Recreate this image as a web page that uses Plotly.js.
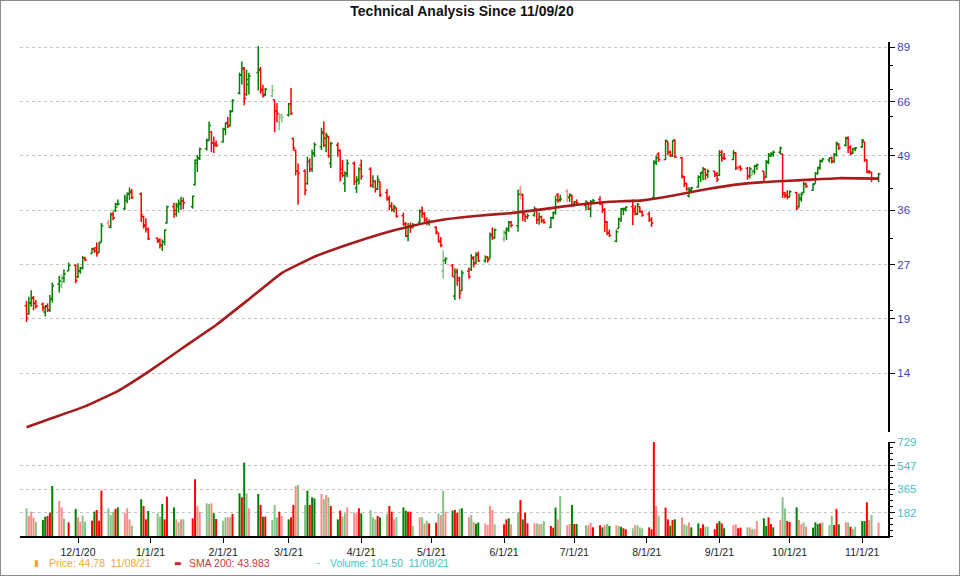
<!DOCTYPE html>
<html><head><meta charset="utf-8">
<script src="https://cdn.plot.ly/plotly-3.0.1.min.js"></script>
<style>
html,body{margin:0;padding:0;background:#fff;}
#chart{width:958px;height:574px;border:1px solid #8c8c8c;}
</style></head><body>
<div id="chart"></div>
<script>
// ---------- DATA ----------
const holidays = ['2020-11-26','2020-12-25','2021-01-01','2021-01-18','2021-02-15','2021-04-02','2021-05-31','2021-07-05','2021-09-06'];
const firstDay = '2020-11-09', lastDay = '2021-11-08';

const openP = [
 20.5,19.6,20.9,21.4,20.8,20.7,19.8,20.5,20.0,21.3,23.2,23.0,24.0,25.0,25.8,
 24.2,25.0,25.4,26.9,27.6,28.3,28.5,27.8,29.5,32.8,32.0,34.5,35.2,36.5,35.6,37.3,38.8,39.0,38.7,34.0,32.5,31.6,
 30.1,29.8,28.8,29.5,32.8,36.0,34.5,36.0,36.5,37.2,36.0,40.8,46.0,47.5,50.0,52.5,55.0,51.7,51.5,
 52.0,55.8,58.0,57.0,61.8,68.5,76.0,78.5,68.0,72.0,77.0,78.0,70.0,68.0,67.5,66.0,62.0,58.0,59.5,
 60.5,64.5,53.0,49.5,44.0,44.0,41.0,46.5,44.5,48.5,50.5,55.0,51.0,53.5,46.0,51.0,49.5,44.5,41.0,43.5,46.0,40.0,42.0,
 45.5,44.5,40.5,41.5,39.8,41.5,39.0,37.5,36.2,35.4,35.7,34.2,32.5,30.5,32.3,32.0,33.0,35.2,34.6,33.5,32.8,
 32.0,31.0,29.6,25.0,26.5,25.8,21.7,25.0,24.0,22.3,25.0,25.2,26.8,26.2,27.5,26.5,27.0,26.8,30.8,30.2,
 30.0,31.0,31.5,33.0,32.3,39.5,38.5,34.5,34.0,34.3,35.5,33.5,34.0,33.3,32.0,33.8,34.8,38.5,37.5,39.3,38.0,38.3,
 36.5,37.0,36.3,36.8,35.5,37.0,37.5,36.8,35.3,33.0,31.0,29.6,31.8,33.5,35.5,35.4,36.0,35.5,34.6,36.0,35.0,
 34.5,33.5,37.9,46.5,48.5,47.0,52.0,49.0,48.0,52.5,47.5,42.6,41.0,38.3,39.5,40.2,42.5,43.8,44.5,43.0,44.0,43.3,
 43.0,49.0,47.5,47.0,48.8,45.0,45.0,44.7,42.8,43.0,44.0,45.3,44.0,42.5,46.2,48.0,48.5,49.0,48.5,39.0,38.5,
 38.0,39.0,36.0,37.5,39.0,41.0,39.5,41.0,43.5,45.0,46.5,46.9,47.5,46.5,48.3,51.2,51.0,53.2,50.5,49.0,50.0,
 50.5,52.0,46.9,44.0,43.8,42.3];
const highP = [
 21.1,21.6,22.4,21.7,21.2,20.9,20.6,20.8,21.8,23.4,24.3,24.5,25.2,26.2,25.9,
 26.1,25.6,27.2,27.1,28.5,28.6,29.4,29.4,32.8,33.4,34.8,35.0,36.8,37.5,38.5,39.0,40.1,39.8,39.0,34.2,33.7,32.0,
 30.2,30.1,29.9,31.6,36.2,36.8,36.8,37.5,38.1,37.9,38.3,47.0,48.3,50.3,53.0,58.3,55.2,53.6,52.4,
 56.3,58.0,59.8,62.3,66.2,77.0,82.0,79.5,78.2,76.9,89.5,79.5,71.8,70.6,71.8,66.0,64.7,61.0,61.0,
 64.8,70.5,53.2,49.8,46.0,44.5,47.8,47.3,49.8,51.8,56.3,58.3,54.8,53.8,52.0,51.8,49.8,46.9,44.0,47.0,46.5,42.8,45.0,
 47.0,45.0,43.0,41.8,43.0,41.6,39.8,38.3,36.9,36.4,35.8,34.8,33.0,32.8,32.9,32.8,35.4,36.0,34.9,33.9,33.5,
 32.2,31.0,30.3,28.1,27.0,26.0,25.4,25.3,24.2,25.1,25.5,27.5,27.2,27.8,27.9,27.3,27.2,31.1,32.0,31.8,
 31.5,32.0,33.2,33.2,39.6,40.5,38.7,34.5,34.6,36.0,35.5,34.8,34.2,33.6,34.0,35.0,38.3,38.9,38.5,39.7,38.8,38.5,
 37.2,37.5,37.3,37.0,37.4,37.6,38.2,37.0,35.7,33.2,31.6,31.6,33.8,35.7,35.8,36.0,37.5,36.3,36.7,36.1,35.2,
 35.0,33.9,46.8,48.2,49.0,52.6,52.1,49.5,52.5,52.7,47.7,42.8,41.2,40.2,40.3,43.0,43.8,45.1,44.6,44.5,44.0,43.8,
 49.6,49.6,48.8,49.6,49.0,45.6,45.5,45.1,45.1,44.5,45.6,46.0,44.0,46.9,48.8,49.0,49.5,50.6,48.6,39.1,39.5,
 39.5,39.1,38.8,39.0,41.4,41.2,41.1,43.8,45.1,47.0,47.3,47.6,47.8,48.8,52.0,51.6,53.5,53.6,51.0,50.2,50.5,
 52.8,52.1,47.0,44.3,43.8,43.6];
const lowP = [
 18.7,19.5,20.4,20.0,20.2,19.9,19.3,19.8,19.8,20.9,22.1,22.7,23.4,25.0,23.3,
 24.0,24.6,25.2,26.4,27.6,27.7,27.1,27.7,29.4,31.9,31.9,33.3,34.9,36.2,35.3,36.7,37.4,37.6,33.0,31.8,31.1,29.8,
 29.3,28.4,28.0,28.9,32.7,33.8,34.0,34.8,35.3,35.5,35.6,40.6,43.8,46.9,49.5,52.4,49.0,48.8,50.5,
 51.8,54.0,56.2,56.8,61.5,68.0,72.0,64.0,67.5,68.0,69.5,68.3,66.8,67.4,67.0,54.9,58.2,55.5,58.0,
 60.0,60.5,49.5,43.0,36.4,38.4,40.8,43.8,43.8,47.7,49.6,50.5,49.0,47.5,44.8,47.8,41.5,42.5,39.1,42.5,40.7,38.9,40.8,
 41.9,40.2,40.0,39.0,39.5,38.0,37.2,35.3,35.0,34.8,33.8,32.3,30.3,29.6,31.0,31.8,32.8,33.8,33.0,32.4,32.3,
 30.8,29.4,28.6,23.9,26.0,24.2,21.2,23.0,21.3,22.3,23.9,25.0,25.5,26.0,26.3,26.2,26.2,26.8,29.8,30.0,
 29.5,29.8,31.2,32.0,31.2,37.5,33.2,33.0,33.5,34.0,32.6,32.5,32.8,32.7,31.9,33.5,34.4,36.8,37.0,37.0,37.0,35.9,
 36.0,36.3,35.3,35.3,33.9,36.6,36.3,34.7,31.2,30.6,30.3,29.4,31.8,33.0,34.3,35.0,32.4,34.3,34.3,34.7,34.0,
 33.0,32.1,37.7,45.6,46.4,46.9,48.2,47.7,47.7,47.4,42.2,40.2,39.4,37.9,38.8,40.1,41.4,41.8,41.9,42.3,42.6,41.4,
 42.8,46.4,46.9,46.9,44.3,44.3,44.0,41.9,42.2,43.0,43.2,44.3,41.4,42.4,45.8,47.7,47.8,48.4,37.8,37.8,37.5,
 38.0,35.3,35.8,37.0,38.9,40.0,39.4,41.0,43.2,44.4,46.3,46.2,46.0,46.1,47.8,49.6,50.6,48.8,48.2,48.5,49.3,
 50.3,46.4,43.5,43.4,41.4,41.4];
const closeP = [
 19.1,20.8,21.5,20.8,20.5,20.3,20.4,20.0,21.3,23.0,23.6,23.5,24.6,25.8,23.7,
 25.0,25.4,26.9,26.6,28.3,28.0,27.6,29.3,32.3,32.3,34.4,33.8,35.9,36.6,37.9,38.6,39.3,37.9,34.4,32.2,31.7,30.0,
 29.6,29.0,29.5,31.5,36.0,35.2,36.4,36.8,37.1,36.8,38.2,46.8,47.3,49.9,52.3,57.0,51.6,51.0,50.9,
 55.9,57.7,56.8,61.7,65.7,75.8,79.0,66.5,74.0,75.5,78.5,69.5,67.5,70.0,69.5,62.0,61.0,60.5,59.8,
 64.5,61.0,50.2,44.0,43.5,39.5,46.5,44.5,48.8,51.2,54.5,53.0,54.0,48.0,51.5,49.5,43.5,43.0,43.2,46.0,41.5,41.8,44.5,
 42.8,40.6,41.6,39.8,42.0,38.5,37.8,36.0,35.4,35.9,34.1,32.7,30.5,32.3,32.0,32.5,35.0,34.6,33.4,32.9,33.0,
 31.2,29.5,28.9,26.6,26.8,24.2,24.8,23.7,22.0,24.7,24.2,27.0,26.0,27.3,26.5,27.0,26.6,30.5,30.2,31.5,
 31.2,31.8,32.9,32.4,38.6,38.8,34.5,34.0,34.2,35.6,33.4,34.0,33.2,32.9,33.8,34.7,37.4,37.2,37.6,37.8,38.5,36.4,
 37.0,36.8,36.9,35.6,37.0,37.2,36.6,35.3,33.0,31.0,30.6,31.2,33.5,35.5,35.6,35.9,35.0,34.5,36.5,35.0,34.3,
 33.4,32.8,46.1,47.5,47.0,52.4,49.0,48.2,52.3,47.7,42.8,41.1,39.8,39.8,40.0,42.6,43.5,44.6,43.2,44.0,43.0,42.0,
 48.2,47.4,47.3,48.8,44.8,44.9,44.6,42.8,44.6,43.8,45.3,45.6,42.5,46.5,48.3,48.7,49.0,50.2,38.6,38.2,38.0,
 39.2,35.7,37.8,38.6,40.8,40.4,40.8,43.4,44.8,46.7,47.2,47.4,46.6,48.4,51.6,50.2,53.0,50.3,48.6,50.0,50.2,
 52.5,46.9,43.8,43.7,42.3,43.3];
const volume = [
 215,155,189,142,110,124,150,155,181,388,272,222,137,106,210,
 145,111,158,111,119,189,202,119,352,215,163,189,210,222,176,215,129,80,285,233,129,194,
 176,150,248,129,305,222,129,106,129,129,137,440,233,189,254,248,254,176,132,
 119,145,145,145,171,331,300,569,331,215,326,241,150,150,124,241,145,189,155,
 129,145,241,388,396,241,352,241,300,292,326,285,318,300,233,129,197,150,176,222,181,176,215,
 176,202,145,129,155,145,171,233,189,129,145,222,197,189,189,78,145,145,98,119,98,
 103,176,163,352,189,197,202,181,210,215,145,163,110,95,105,98,85,233,202,91,
 91,129,137,91,181,279,129,181,98,98,98,91,93,116,78,65,220,129,310,85,93,241,
 93,93,85,85,103,67,83,67,85,93,78,83,78,72,60,52,60,83,83,67,60,
 67,52,729,233,158,220,129,80,124,129,145,91,80,106,67,98,60,91,72,72,52,98,
 116,98,60,85,91,60,65,67,67,52,52,116,137,78,145,93,67,124,300,215,116,
 109,222,124,93,106,72,65,106,93,98,106,85,158,85,210,91,106,106,72,54,72,
 116,116,261,124,163,104.5];
// volume bar shade codes: G dark green, g light green, R dark red, r light red
const volumeShade =
 'grrrgGGRRGrrgRG' + 'rrggRGRRRgggRGrrrgGRRG' + 'ggGRRGrgrgRRrrggrGR' + 'ggrgRGRGgrGRGRgggRr' +
 'GRRrggGRGGrgrgRGRggrrrR' + 'GgggRGgRRrgGGRRgrgrgR' + 'RgrgrGRRgGrgrGGrrrrg' + 'RRGrgRGRRrgrggRRGrgrrG' +
 'RGgrrRRGrgGrgGRRgrggg' + 'RRRrgRRGRGrggrGGRRggRR' + 'GRGrrRRgrgrrGGRRGrggR' + 'RGrrgrGGGRgggRRGrgRgg' + 'GGRrgr';

const smaDates = ['2020-11-09','2020-11-20','2020-12-04','2020-12-18','2020-12-31','2021-01-15','2021-01-29','2021-02-12','2021-02-26','2021-03-12','2021-03-26','2021-04-09','2021-04-23','2021-05-07','2021-05-21','2021-06-04','2021-06-18','2021-07-02','2021-07-16','2021-07-30','2021-08-13','2021-08-27','2021-09-10','2021-09-24','2021-10-08','2021-10-22','2021-11-08'];
const smaValues = [10.3,10.86,11.6,12.65,14.1,16.2,18.4,21.3,24.7,27.1,29.0,30.8,32.3,33.5,34.2,34.7,35.5,36.4,37.0,37.3,38.4,39.8,40.9,41.5,41.9,42.3,42.2];

const monthTicks = ['2020-12-01','2021-01-01','2021-02-01','2021-03-01','2021-04-01','2021-05-01','2021-06-01','2021-07-01','2021-08-01','2021-09-01','2021-10-01','2021-11-01'];
const monthLabels = ['12/1/20','1/1/21','2/1/21','3/1/21','4/1/21','5/1/21','6/1/21','7/1/21','8/1/21','9/1/21','10/1/21','11/1/21'];
const priceTickVals = [14, 19.05, 25.93, 35.28, 48.01, 65.33, 88.9];
const priceTickText = ['14','19','27','36','49','66','89'];
const volTickVals = [182.25, 364.5, 546.75, 729];
const volTickText = ['182','365','547','729'];

// ---------- BUILD ----------
const DAY = 86400000;
function buildDates(){
  const out = []; let t = Date.parse(firstDay); const end = Date.parse(lastDay);
  while (t <= end){
    const d = new Date(t); const wd = d.getUTCDay(); const s = d.toISOString().slice(0,10);
    if (wd !== 0 && wd !== 6 && holidays.indexOf(s) < 0) out.push(s);
    t += DAY;
  }
  return out;
}
const dates = buildDates();
if (dates.length !== closeP.length) console.error('length mismatch', dates.length, closeP.length);

const palette = {G:'#008000', g:'#84c484', R:'#ff0000', r:'#ff8a8a'};
function priceShade(i){
  const up = closeP[i] >= openP[i];
  const prev = i > 0 ? closeP[i-1] : openP[i];
  const dark = (closeP[i] >= prev) === up;
  return up ? (dark ? 'G' : 'g') : (dark ? 'R' : 'r');
}
const T = 0.8 * DAY;
const barSets = {G:{x:[],y:[]}, g:{x:[],y:[]}, R:{x:[],y:[]}, r:{x:[],y:[]}};
dates.forEach((d,i) => {
  const t = Date.parse(d); const s = barSets[priceShade(i)];
  s.x.push(t - T, t, null, t, t, null, t, t + T, null);
  s.y.push(openP[i], openP[i], null, lowP[i], highP[i], null, closeP[i], closeP[i], null);
});
const volSets = {G:{x:[],y:[]}, g:{x:[],y:[]}, R:{x:[],y:[]}, r:{x:[],y:[]}};
dates.forEach((d,i) => { const s = volSets[volumeShade[i]] || volSets.g; s.x.push(d); s.y.push(volume[i]); });

const traces = [];
['g','r','G','R'].forEach(k => {
  traces.push({type:'scatter', mode:'lines', x:barSets[k].x, y:barSets[k].y, xaxis:'x', yaxis:'y',
    line:{color:palette[k], width:1.5}, connectgaps:false, hoverinfo:'skip'});
});
traces.push({type:'scatter', mode:'lines', x:smaDates, y:smaValues, xaxis:'x', yaxis:'y',
  line:{color:'#a61c1c', width:2.6, shape:'spline', smoothing:0.3}, hoverinfo:'skip'});
['g','r','G','R'].forEach(k => {
  traces.push({type:'bar', x:volSets[k].x, y:volSets[k].y, xaxis:'x', yaxis:'y2', width:0.85*DAY,
    marker:{color:palette[k], line:{width:0}}, hoverinfo:'skip'});
});

const W = 958, H = 574, ML = 19, MR = 71, MT = 41, MB = 39;
const PW = W - ML - MR, PH = H - MT - MB;
const px = v => (v - 1 - ML) / PW;           // page x -> paper
const py = v => (H - MB - (v - 1)) / PH;      // page y -> paper
const legendFont = {family:'Liberation Sans, Arial, sans-serif', size:10.5};

const layout = {
  width:W, height:H, margin:{l:ML, r:MR, t:MT, b:MB},
  paper_bgcolor:'#ffffff', plot_bgcolor:'#ffffff', showlegend:false, barmode:'overlay',
  title:{text:'<b>Technical Analysis Since 11/09/20</b>', x:461/W, xanchor:'center', y:1 - 10.5/H, yanchor:'middle',
    font:{family:'Liberation Sans Narrow, Liberation Sans, Arial, sans-serif', size:14, color:'#111'}},
  xaxis:{type:'date', range:['2020-11-06 05:20','2021-11-12 00:30'], anchor:'y2', showline:true, linecolor:'#000', linewidth:2,
    ticks:'outside', ticklen:5, tickcolor:'#000', tickwidth:1, tickmode:'array', tickvals:monthTicks, ticktext:monthLabels,
    tickfont:{family:'Liberation Sans, Arial, sans-serif', size:10.5, color:'#222'}, showgrid:false, zeroline:false, fixedrange:true},
  yaxis:{domain:[py(432), 1], type:'log', range:[1.0013, 1.9617], side:'right', anchor:'x', showline:true, linecolor:'#000', linewidth:2,
    ticks:'outside', ticklen:5, tickcolor:'#000', tickmode:'array', tickvals:priceTickVals, ticktext:priceTickText,
    tickfont:{family:'Liberation Sans, Arial, sans-serif', size:11.5, color:'#4040c0'},
    showgrid:true, gridcolor:'#c4c4c4', griddash:'dot', gridwidth:1, zeroline:false,
    minor:{tickmode:'array', tickvals:[20,30,40,50,60,70,80], ticks:'outside', ticklen:3, tickcolor:'#000', showgrid:false}},
  yaxis2:{domain:[0, py(442)], range:[0, 729], side:'right', anchor:'x', showline:true, linecolor:'#000', linewidth:2,
    ticks:'outside', ticklen:5, tickcolor:'#000', tickmode:'array', tickvals:volTickVals, ticktext:volTickText,
    tickfont:{family:'Liberation Sans, Arial, sans-serif', size:11.5, color:'#45c2c2'},
    showgrid:true, gridcolor:'#c4c4c4', griddash:'dot', gridwidth:1, zeroline:false,
    minor:{dtick:45.5625, tick0:0, ticks:'outside', ticklen:3, tickcolor:'#000', showgrid:false}},
  annotations:[
    {xref:'paper', yref:'paper', x:px(36.5), y:py(563), xanchor:'center', yanchor:'middle', showarrow:false, text:'\u25AE', font:{family:'DejaVu Sans', size:9, color:'#f5a53a'}},
    {xref:'paper', yref:'paper', x:px(47), y:py(563), xanchor:'left', yanchor:'middle', showarrow:false, text:'Price: 44.78\u00a0\u00a011/08/21', font:Object.assign({color:'#f2a444'}, legendFont)},
    {xref:'paper', yref:'paper', x:px(177.5), y:py(563), xanchor:'center', yanchor:'middle', showarrow:false, text:'\u25AC', font:{family:'DejaVu Sans', size:8, color:'#c42a2a'}},
    {xref:'paper', yref:'paper', x:px(187), y:py(563), xanchor:'left', yanchor:'middle', showarrow:false, text:'SMA 200: 43.983', font:Object.assign({color:'#c83a3a'}, legendFont)},
    {xref:'paper', yref:'paper', x:px(318), y:py(563), xanchor:'center', yanchor:'middle', showarrow:false, text:'\u2013', font:{family:'DejaVu Sans', size:9, color:'#45c2c2'}},
    {xref:'paper', yref:'paper', x:px(328), y:py(563), xanchor:'left', yanchor:'middle', showarrow:false, text:'Volume: 104.50\u00a0\u00a011/08/21', font:Object.assign({color:'#45c2c2'}, legendFont)}
  ]
};
Plotly.newPlot('chart', traces, layout, {staticPlot:true, displayModeBar:false});
</script>
</body></html>
